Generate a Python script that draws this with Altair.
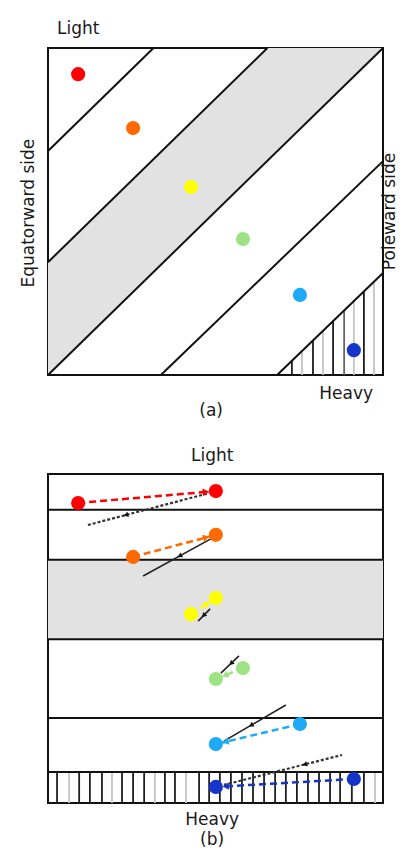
import math
import altair as alt
import pandas as pd

# ---------------- Panel (a) ----------------
# diagonal boundaries (normalised box coordinates, 0..1)
a_line_x = [0.0, 0.0, 0.0, 0.337, 0.684]
a_line_y = [0.685, 0.345, 0.0, 0.0, 0.0]
a_line_x2 = [0.315, 0.655, 1.0, 1.0, 1.0]
a_line_y2 = [1.0, 1.0, 1.0, 0.654, 0.312]

# stippled band between 2nd and 3rd diagonal
stip_u = [0.0, 0.655, 1.0]
stip_lo = [0.0, 0.655, 1.0]
stip_hi = [0.345, 1.0, 1.0]

# vertical hatching in the heavy corner
hatch_a_x = [0.728, 0.758, 0.791, 0.821, 0.851, 0.884, 0.913, 0.943, 0.973]
hatch_a_tone = ["d", "f", "d", "f", "d", "m", "f", "d", "f"]

# particle positions
colors = ["#ff0000", "#ff6a00", "#ffff00", "#9de385", "#1eaaf8", "#1535c8"]
a_u = [0.090, 0.254, 0.427, 0.582, 0.752, 0.913]
a_v = [0.920, 0.755, 0.575, 0.416, 0.245, 0.076]

# ---------------- Panel (b) ----------------
b_hlines = [0.891, 0.739, 0.498, 0.258, 0.094]
b_stip = [0.498, 0.739]
b_hatch_top = 0.094
hatch_b_x = [0.027, 0.063, 0.093, 0.125, 0.161, 0.191, 0.221, 0.254, 0.287,
             0.319, 0.349, 0.379, 0.412, 0.451, 0.481, 0.513, 0.546, 0.579,
             0.612, 0.645, 0.678, 0.710, 0.743, 0.776, 0.809, 0.842, 0.872,
             0.907, 0.943, 0.976]
hatch_b_tone = ["d", "f", "d", "d", "d", "f", "d", "d", "d", "f", "d", "d",
                "f", "d", "d", "d", "d", "d", "d", "d", "d", "d", "d", "d",
                "d", "d", "d", "d", "d", "f"]

b_start_u = [0.090, 0.254, 0.427, 0.582, 0.752, 0.913]
b_start_v = [0.912, 0.748, 0.574, 0.410, 0.240, 0.073]
b_end_u = [0.501, 0.501, 0.501, 0.501, 0.501, 0.501]
b_end_v = [0.948, 0.815, 0.623, 0.377, 0.179, 0.049]

bl_u1 = [0.119, 0.284, 0.448, 0.516, 0.525, 0.525]
bl_v1 = [0.845, 0.690, 0.553, 0.395, 0.188, 0.055]
bl_u2 = [0.481, 0.490, 0.484, 0.570, 0.710, 0.878]
bl_v2 = [0.942, 0.805, 0.590, 0.447, 0.298, 0.146]
bl_dashed = [True, False, False, False, False, True]
bl_head_frac = [0.32, 0.54, 0.5, 0.6, 0.45, 0.69]

W = 335
HA = 327
HB = 329
FONT = "DejaVu Sans"
FS = 17
TXT = "#1a1a1a"

X = lambda f: alt.X(f, type="quantitative", scale=alt.Scale(domain=[0, 1]), axis=None)
Y = lambda f: alt.Y(f, type="quantitative", scale=alt.Scale(domain=[0, 1]), axis=None)

# ---------- build panel (a) ----------
stip_df = pd.DataFrame({"u": stip_u, "lo": stip_lo, "hi": stip_hi})
stip_a = alt.Chart(stip_df).mark_area(color="#e2e2e2", opacity=1).encode(
    x=X("u"), y=Y("lo"), y2="hi")

slope5 = (a_line_y2[4] - a_line_y[4]) / (a_line_x2[4] - a_line_x[4])
hatch_a_df = pd.DataFrame({
    "u": hatch_a_x,
    "top": [(u - a_line_x[4]) * slope5 for u in hatch_a_x],
    "bot": [0.0] * len(hatch_a_x),
    "tone": hatch_a_tone,
})
tone_scale = alt.Scale(domain=["d", "m", "f"], range=["#1e1e1e", "#666666", "#c4c4c4"])
hatch_a = alt.Chart(hatch_a_df).mark_rule(strokeWidth=1.8).encode(
    x=X("u"), y=Y("bot"), y2="top",
    color=alt.Color("tone:N", scale=tone_scale, legend=None))

diag_df = pd.DataFrame({"x": a_line_x, "y": a_line_y, "x2": a_line_x2, "y2": a_line_y2})
diag = alt.Chart(diag_df).mark_rule(color="#111111", strokeWidth=2).encode(
    x=X("x"), y=Y("y"), x2="x2", y2="y2")

pts_a_df = pd.DataFrame({"u": a_u, "v": a_v, "c": colors})
pts_a = alt.Chart(pts_a_df).mark_circle(size=200, opacity=1).encode(
    x=X("u"), y=Y("v"), color=alt.Color("c:N", scale=None))

txt_a_df = pd.DataFrame({"t": ["Light", "Heavy", "(a)"],
                         "u": [0.09, 0.89, 0.487], "v": [1.058, -0.058, -0.11]})
txt_a = alt.Chart(txt_a_df).mark_text(font=FONT, fontSize=FS, color=TXT).encode(
    x=X("u"), y=Y("v"), text="t:N")
side_df = pd.DataFrame({"t": ["Equatorward side", "Poleward side"],
                        "u": [-0.057, 1.022], "v": [0.495, 0.50]})
side_a = alt.Chart(side_df).mark_text(font=FONT, fontSize=FS, color=TXT, angle=270).encode(
    x=X("u"), y=Y("v"), text="t:N")

panel_a = alt.layer(stip_a, hatch_a, diag, pts_a, txt_a, side_a).properties(width=W, height=HA)

# ---------- build panel (b) ----------
stip_b = alt.Chart(pd.DataFrame({"a": [0.0], "b": [1.0], "lo": [b_stip[0]], "hi": [b_stip[1]]})).mark_rect(
    color="#e2e2e2").encode(x=X("a"), x2="b", y=Y("lo"), y2="hi")

hatch_b_df = pd.DataFrame({"u": hatch_b_x, "bot": [0.0] * len(hatch_b_x),
                           "top": [b_hatch_top] * len(hatch_b_x), "tone": hatch_b_tone})
hatch_b = alt.Chart(hatch_b_df).mark_rule(strokeWidth=1.8).encode(
    x=X("u"), y=Y("bot"), y2="top",
    color=alt.Color("tone:N", scale=tone_scale, legend=None))

hl_df = pd.DataFrame({"a": [0.0] * 5, "b": [1.0] * 5, "v": b_hlines})
hl = alt.Chart(hl_df).mark_rule(color="#111111", strokeWidth=2).encode(
    x=X("a"), x2="b", y=Y("v"))

bl_df = pd.DataFrame({"u1": bl_u1, "v1": bl_v1, "u2": bl_u2, "v2": bl_v2, "dashed": bl_dashed})
bl_solid = alt.Chart(bl_df[~bl_df["dashed"]]).mark_rule(color="#222222", strokeWidth=1.6).encode(
    x=X("u1"), y=Y("v1"), x2="u2", y2="v2")
bl_dash = alt.Chart(bl_df[bl_df["dashed"]]).mark_rule(color="#333333", strokeWidth=2.2,
                                                       strokeDash=[3, 2]).encode(
    x=X("u1"), y=Y("v1"), x2="u2", y2="v2")


def screen_angle(du, dv):
    # direction in screen pixels, angle clockwise from "up"
    dx = du * W
    dy = -dv * HB
    ang = math.degrees(math.atan2(dx, -dy))
    return ang % 360


bh_u, bh_v, bh_ang = [], [], []
for u1, v1, u2, v2, f in zip(bl_u1, bl_v1, bl_u2, bl_v2, bl_head_frac):
    bh_u.append(u1 + (u2 - u1) * f)
    bh_v.append(v1 + (v2 - v1) * f)
    bh_ang.append(screen_angle(u1 - u2, v1 - v2))
bh_df = pd.DataFrame({"u": bh_u, "v": bh_v, "ang": bh_ang})
bl_heads = alt.Chart(bh_df).mark_point(shape="triangle", filled=True, size=30, color="#111111",
                                       opacity=1).encode(
    x=X("u"), y=Y("v"), angle=alt.Angle("ang:Q", scale=None))

arr_df = pd.DataFrame({"u1": b_start_u, "v1": b_start_v, "u2": b_end_u, "v2": b_end_v, "c": colors})
arr = alt.Chart(arr_df).mark_rule(strokeWidth=2.5, strokeDash=[7, 4]).encode(
    x=X("u1"), y=Y("v1"), x2="u2", y2="v2", color=alt.Color("c:N", scale=None))

ah_u, ah_v, ah_ang = [], [], []
for u1, v1, u2, v2 in zip(b_start_u, b_start_v, b_end_u, b_end_v):
    dxp = (u2 - u1) * W
    dyp = (v2 - v1) * HB
    L = math.hypot(dxp, dyp)
    back = 11.0 / L
    ah_u.append(u2 - (u2 - u1) * back)
    ah_v.append(v2 - (v2 - v1) * back)
    ah_ang.append(screen_angle(u2 - u1, v2 - v1))
ah_df = pd.DataFrame({"u": ah_u, "v": ah_v, "ang": ah_ang, "c": colors})
arr_heads = alt.Chart(ah_df).mark_point(shape="triangle", filled=True, size=55, opacity=1).encode(
    x=X("u"), y=Y("v"), angle=alt.Angle("ang:Q", scale=None), color=alt.Color("c:N", scale=None))

pts_b_df = pd.DataFrame({"u": b_start_u + b_end_u, "v": b_start_v + b_end_v, "c": colors + colors})
pts_b = alt.Chart(pts_b_df).mark_circle(size=200, opacity=1).encode(
    x=X("u"), y=Y("v"), color=alt.Color("c:N", scale=None))

txt_b_df = pd.DataFrame({"t": ["Light", "Heavy", "(b)"],
                         "u": [0.49, 0.49, 0.49], "v": [1.055, -0.052, -0.113]})
txt_b = alt.Chart(txt_b_df).mark_text(font=FONT, fontSize=FS, color=TXT).encode(
    x=X("u"), y=Y("v"), text="t:N")

panel_b = alt.layer(stip_b, hatch_b, hl, bl_solid, bl_dash, bl_heads, arr, arr_heads, pts_b,
                    txt_b).properties(width=W, height=HB)

chart = alt.vconcat(panel_a, panel_b, spacing=99, bounds="flush").properties(
    padding={"left": 10, "top": 11, "right": -2, "bottom": -2},
    background="white",
).configure_view(stroke="#111111", strokeWidth=2)

chart.save("out.html", embed_options={"renderer": "svg", "actions": False})
